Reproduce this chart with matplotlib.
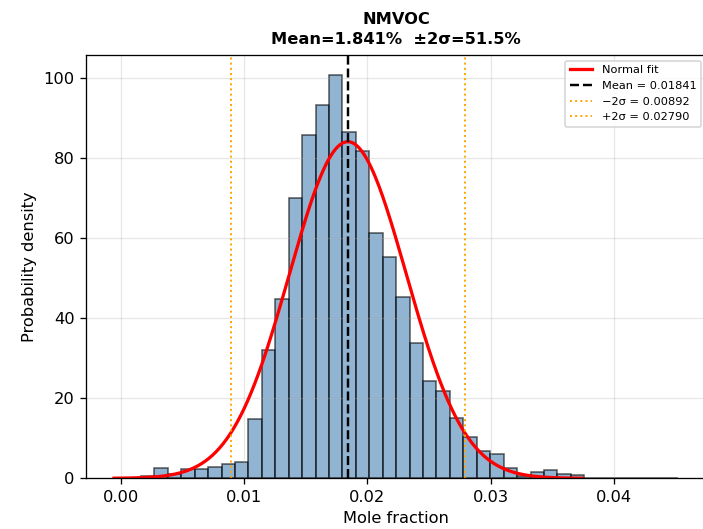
import numpy as np
import matplotlib
matplotlib.use("Agg")
import matplotlib.pyplot as plt

# histogram of NMVOC mole fraction (density), 40 bins
bin_lo = 0.00162
bin_hi = 0.04523
density = [
    0.7, 2.5, 1.0, 2.3, 2.3, 2.9, 3.6, 4.1,
    14.8, 32.0, 44.8, 69.9, 85.8, 93.2, 100.7, 86.5, 81.7, 61.2, 55.3, 45.3,
    33.9, 24.3, 21.9, 15.1, 10.4, 6.8, 6.2, 2.7, 0.5, 1.7, 2.1, 1.2, 0.8,
    0.0, 0.0, 0.2, 0.2, 0.0, 0.0, 0.2,
]

mean = 0.01841
lo_2s = 0.00892
hi_2s = 0.02790
sigma = (hi_2s - lo_2s) / 4

edges = np.linspace(bin_lo, bin_hi, len(density) + 1)
width = edges[1] - edges[0]

DPI = 117
fig = plt.figure(figsize=(703 / DPI, 529 / DPI), dpi=DPI)
ax = fig.add_axes([0.122, 0.0958, 0.883, 0.8002])

ax.bar(edges[:-1], density, width=width, align="edge",
       color="steelblue", alpha=0.6, edgecolor="black", linewidth=1.0)

xs = np.linspace(mean - 4 * sigma, mean + 4 * sigma, 400)
pdf = np.exp(-0.5 * ((xs - mean) / sigma) ** 2) / (sigma * np.sqrt(2 * np.pi))
ax.plot(xs, pdf, color="red", lw=2, label="Normal fit")

ax.axvline(mean, color="black", ls="--", lw=1.5, label=f"Mean = {mean:.5f}")
ax.axvline(lo_2s, color="orange", ls=":", lw=1.2, label=f"\u22122\u03c3 = {lo_2s:.5f}")
ax.axvline(hi_2s, color="orange", ls=":", lw=1.2, label=f"+2\u03c3 = {hi_2s:.5f}")

ax.set_xlabel("Mole fraction")
ax.set_ylabel("Probability density")
ax.set_title(f"NMVOC\nMean={mean*100:.3f}%  \u00b12\u03c3={2*sigma/mean*100:.1f}%",
             fontsize=10, fontweight="bold", linespacing=1.35, pad=7)
ax.grid(alpha=0.3)
ax.legend(fontsize=7, loc="upper right")

fig.savefig("out.png", dpi=DPI)
